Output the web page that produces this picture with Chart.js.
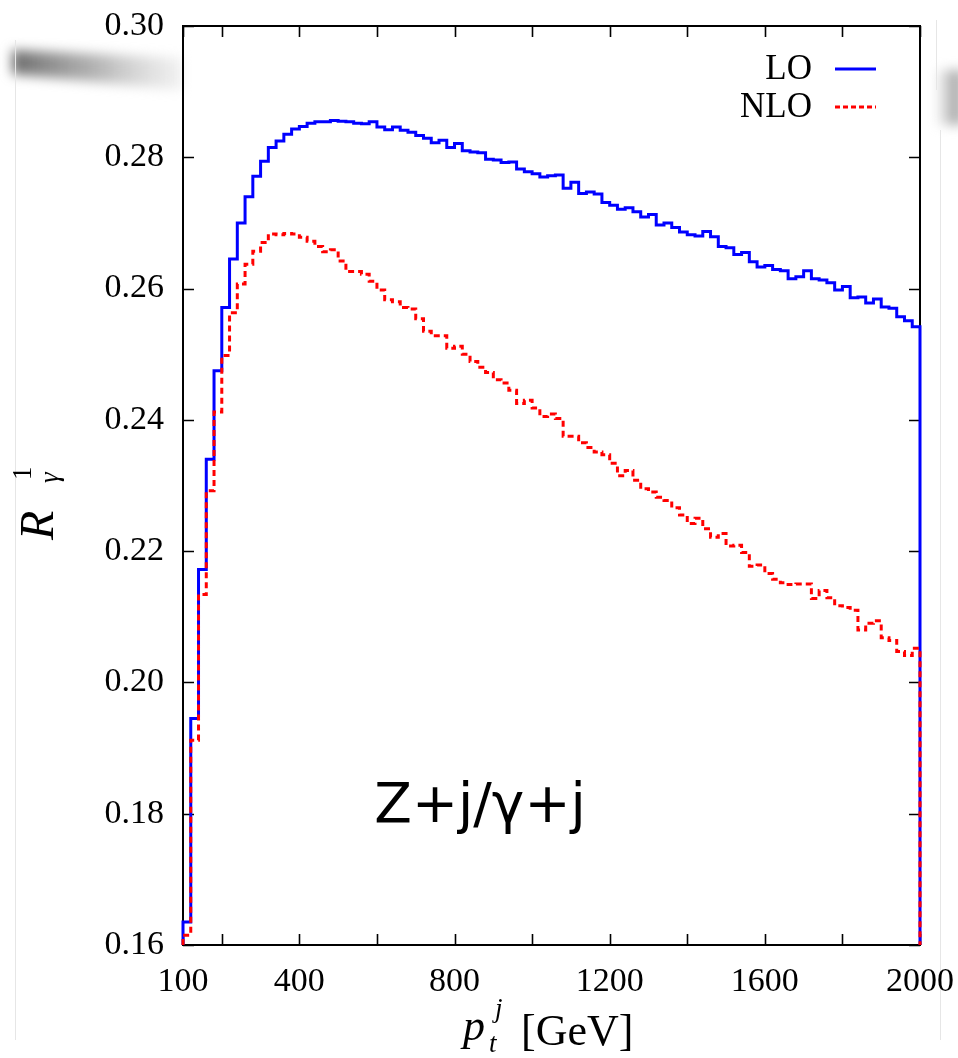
<!DOCTYPE html>
<html>
<head>
<meta charset="utf-8">
<script src="https://cdn.jsdelivr.net/npm/chart.js@4/dist/chart.umd.min.js"></script>
<style>
  html, body { margin: 0; padding: 0; background: #fff; }
  #wrap { width: 958px; height: 1058px; }
</style>
</head>
<body>
<div id="wrap"><canvas id="ratioChart" width="958" height="1058"></canvas></div>
<script>
// histogram binning (pt of the jet, GeV)
const binStart = 100;
const binWidth = 20;

// R^1_gamma, LO, one value per 20 GeV bin from 100 to 2000 GeV
const loValues = [
    0.1635, 0.1945, 0.2172, 0.2340, 0.2475, 0.2571, 0.2645, 0.2700, 0.2740, 0.2771,
    0.2794, 0.2815, 0.2825, 0.2835, 0.2843, 0.2847, 0.2852, 0.2854, 0.2854, 0.2856,
    0.2855, 0.2854, 0.2852, 0.2851, 0.2854, 0.2846, 0.2842, 0.2846, 0.2841, 0.2838,
    0.2833, 0.2829, 0.2822, 0.2826, 0.2815, 0.2821, 0.2810, 0.2808, 0.2807, 0.2797,
    0.2796, 0.2792, 0.2793, 0.2782, 0.2778, 0.2775, 0.2770, 0.2772, 0.2773, 0.2753,
    0.2762, 0.2745, 0.2747, 0.2744, 0.2731, 0.2727, 0.2721, 0.2723, 0.2717, 0.2709,
    0.2713, 0.2697, 0.2700, 0.2693, 0.2686, 0.2682, 0.2680, 0.2687, 0.2679, 0.2664,
    0.2662, 0.2652, 0.2655, 0.2641, 0.2633, 0.2635, 0.2629, 0.2627, 0.2615, 0.2618,
    0.2627, 0.2615, 0.2613, 0.2609, 0.2598, 0.2603, 0.2586, 0.2587, 0.2578, 0.2584,
    0.2572, 0.2570, 0.2557, 0.2551, 0.2542
];

// same for NLO
const nloValues = [
    0.1615, 0.1912, 0.2134, 0.2292, 0.2412, 0.2498, 0.2563, 0.2607, 0.2637, 0.2657,
    0.2670, 0.2683, 0.2682, 0.2684, 0.2683, 0.2678, 0.2672, 0.2664, 0.2656, 0.2659,
    0.2642, 0.2626, 0.2626, 0.2622, 0.2611, 0.2598, 0.2583, 0.2580, 0.2571, 0.2569,
    0.2554, 0.2535, 0.2528, 0.2528, 0.2509, 0.2512, 0.2500, 0.2489, 0.2480, 0.2472,
    0.2461, 0.2456, 0.2445, 0.2425, 0.2430, 0.2418, 0.2405, 0.2409, 0.2402, 0.2375,
    0.2375, 0.2365, 0.2358, 0.2351, 0.2347, 0.2334, 0.2315, 0.2323, 0.2308, 0.2295,
    0.2290, 0.2282, 0.2277, 0.2266, 0.2255, 0.2242, 0.2250, 0.2234, 0.2221, 0.2227,
    0.2208, 0.2209, 0.2198, 0.2177, 0.2179, 0.2166, 0.2157, 0.2152, 0.2149, 0.2150,
    0.2150, 0.2128, 0.2140, 0.2129, 0.2117, 0.2114, 0.2110, 0.2080, 0.2090, 0.2094,
    0.2068, 0.2064, 0.2047, 0.2041, 0.2052
];

const xMin = 100, xMax = 2000;
const yMin = 0.16, yMax = 0.30;
const xTicks = [100, 200, 400, 600, 800, 1000, 1200, 1400, 1600, 1800, 2000];
const xTickLabels = [100, 400, 800, 1200, 1600, 2000];
const yTicks = [0.16, 0.18, 0.20, 0.22, 0.24, 0.26, 0.28, 0.30];

const serif = '"Liberation Serif", "DejaVu Serif", serif';

// turn bin contents into a closed step outline (gnuplot "histeps" look)
function histPoints(values) {
    const pts = [{ x: binStart, y: yMin }];
    values.forEach((v, i) => pts.push({ x: binStart + i * binWidth, y: v }));
    const end = binStart + values.length * binWidth;
    pts.push({ x: end, y: values[values.length - 1] });
    pts.push({ x: end, y: yMin });
    return pts;
}

function noScalePadding(s) {
    s.paddingLeft = 0; s.paddingRight = 0;
    s.paddingTop = 0; s.paddingBottom = 0;
}

const decorPlugin = {
    id: 'decor',
    beforeDraw(chart) {
        const ctx = chart.ctx;
        ctx.save();
        ctx.fillStyle = '#fff';
        ctx.fillRect(0, 0, chart.width, chart.height);
        // scan shadows left in the source picture
        ctx.filter = 'blur(6px)';
        let g = ctx.createLinearGradient(12, 0, 182, 0);
        g.addColorStop(0, 'rgba(100,100,100,0.95)');
        g.addColorStop(0.5, 'rgba(150,150,150,0.7)');
        g.addColorStop(1, 'rgba(215,215,215,0.35)');
        ctx.fillStyle = g;
        ctx.beginPath();
        ctx.moveTo(12, 50); ctx.lineTo(182, 58); ctx.lineTo(182, 90); ctx.lineTo(12, 74);
        ctx.closePath(); ctx.fill();
        g = ctx.createLinearGradient(958, 0, 932, 0);
        g.addColorStop(0, 'rgba(140,140,140,0.85)');
        g.addColorStop(1, 'rgba(220,220,220,0.2)');
        ctx.fillStyle = g;
        ctx.fillRect(938, 70, 24, 55);
        ctx.filter = 'none';
        ctx.strokeStyle = '#e6e6e6';
        ctx.lineWidth = 1;
        ctx.beginPath();
        ctx.moveTo(15.5, 40); ctx.lineTo(15.5, 1040);
        ctx.moveTo(936.5, 20); ctx.lineTo(936.5, 90);
        ctx.moveTo(940.5, 130); ctx.lineTo(940.5, 1040);
        ctx.stroke();
        ctx.restore();
    },
    beforeDatasetsDraw(chart) {
        const { ctx, chartArea: a, scales: { x, y } } = chart;
        ctx.save();
        ctx.strokeStyle = '#000';
        ctx.lineWidth = 2;
        ctx.strokeRect(a.left, a.top, a.right - a.left, a.bottom - a.top);
        ctx.lineWidth = 1.6;
        ctx.beginPath();
        xTicks.forEach(v => {
            const px = Math.round(x.getPixelForValue(v)) + 0.5;
            ctx.moveTo(px, a.bottom); ctx.lineTo(px, a.bottom - 11);
            ctx.moveTo(px, a.top); ctx.lineTo(px, a.top + 11);
        });
        yTicks.forEach(v => {
            const py = Math.round(y.getPixelForValue(v)) + 0.5;
            ctx.moveTo(a.left, py); ctx.lineTo(a.left + 11, py);
            ctx.moveTo(a.right, py); ctx.lineTo(a.right - 11, py);
        });
        ctx.stroke();
        ctx.restore();
    },
    afterDraw(chart) {
        const ctx = chart.ctx;
        ctx.save();
        ctx.fillStyle = '#000';

        // key, gnuplot style: right aligned text + line sample
        ctx.font = '35px ' + serif;
        ctx.textAlign = 'right';
        ctx.textBaseline = 'middle';
        ctx.fillText('LO', 812, 70);
        ctx.fillText('NLO', 812, 108);
        ctx.lineWidth = 3;
        ctx.strokeStyle = '#0000ff';
        ctx.beginPath(); ctx.moveTo(835, 69); ctx.lineTo(876, 69); ctx.stroke();
        ctx.strokeStyle = '#ff0000';
        ctx.setLineDash([5, 3]);
        ctx.beginPath(); ctx.moveTo(835, 107); ctx.lineTo(876, 107); ctx.stroke();
        ctx.setLineDash([]);

        // process label
        ctx.font = '55px "DejaVu Sans", sans-serif';
        ctx.textAlign = 'center';
        ctx.textBaseline = 'alphabetic';
        ctx.fillText('Z+j/\u03b3+j', 480, 822);

        // x title: p_t^j [GeV]
        ctx.textAlign = 'left';
        ctx.font = 'italic 44px ' + serif;
        ctx.fillText('p', 463, 1040);
        ctx.font = 'italic 27px ' + serif;
        ctx.fillText('j', 495, 1017);
        ctx.fillText('t', 489, 1052);
        ctx.font = '44px ' + serif;
        ctx.fillText('[GeV]', 521, 1045);

        // y title: R^1_gamma, rotated
        ctx.translate(53, 494);
        ctx.rotate(-Math.PI / 2);
        ctx.font = 'italic 48px ' + serif;
        ctx.fillText('R', -46, 0);
        ctx.font = '27px ' + serif;
        ctx.fillText('1', 14, -22);
        ctx.font = 'italic 27px ' + serif;
        ctx.fillText('\u03b3', 11, 5);
        ctx.restore();
    }
};

const ratioChart = new Chart(document.getElementById('ratioChart'), {
    type: 'line',
    data: {
        datasets: [{
            label: 'LO',
            data: histPoints(loValues),
            borderColor: '#0000ff',
            borderWidth: 3,
            stepped: true,
            pointRadius: 0,
            fill: false,
            clip: 6,
            order: 1
        }, {
            label: 'NLO',
            data: histPoints(nloValues),
            borderColor: '#ff0000',
            borderWidth: 3,
            borderDash: [6, 4],
            stepped: true,
            pointRadius: 0,
            fill: false,
            clip: 6,
            order: 0
        }]
    },
    options: {
        responsive: false,
        animation: false,
        events: [],
        layout: {
            padding: { top: 26, right: 38, left: 0, bottom: 0 }
        },
        plugins: {
            legend: { display: false },
            tooltip: { enabled: false }
        },
        scales: {
            x: {
                type: 'linear',
                min: xMin,
                max: xMax,
                afterBuildTicks: (s) => { s.ticks = xTicks.map(v => ({ value: v })); },
                afterFit: (s) => { s.height = 113; noScalePadding(s); },
                grid: { display: false, drawTicks: false },
                border: { display: false },
                ticks: {
                    autoSkip: false,
                    maxRotation: 0,
                    padding: 17,
                    color: '#000',
                    font: { family: serif, size: 34 },
                    callback: (v) => xTickLabels.includes(v) ? String(v) : ''
                }
            },
            y: {
                type: 'linear',
                min: yMin,
                max: yMax,
                afterBuildTicks: (s) => { s.ticks = yTicks.map(v => ({ value: v })); },
                afterFit: (s) => { s.width = 183; noScalePadding(s); },
                grid: { display: false, drawTicks: false },
                border: { display: false },
                ticks: {
                    autoSkip: false,
                    padding: 19,
                    color: '#000',
                    font: { family: serif, size: 34 },
                    callback: (v) => v.toFixed(2)
                }
            }
        }
    },
    plugins: [decorPlugin]
});
</script>
</body>
</html>
